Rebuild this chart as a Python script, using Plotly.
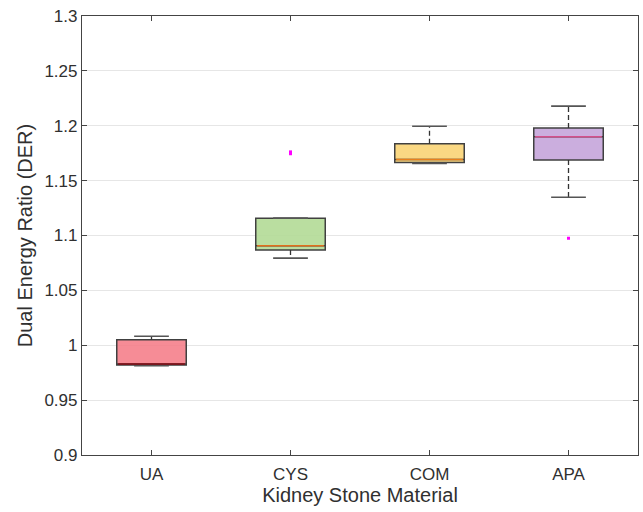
import plotly.graph_objects as go

categories = ["UA", "CYS", "COM", "APA"]
positions = [1, 2, 3, 4]
q1 = [0.982, 1.0868, 1.1666, 1.1689]
median = [0.983, 1.0906, 1.1693, 1.1900]
q3 = [1.0051, 1.1158, 1.1836, 1.1979]
lower_whisker = [0.9814, 1.0794, 1.1657, 1.1348]
upper_whisker = [1.0082, 1.1158, 1.1995, 1.2179]
outlier_x = [2, 2, 4]
outlier_y = [1.1745, 1.1762, 1.0975]

fill_colors = ["rgba(244,120,132,0.85)", "rgba(178,218,150,0.9)", "rgba(250,212,118,0.9)", "rgba(200,170,220,0.95)"]
median_colors = ["#8B0A14", "#E0701C", "#E8801C", "#D4508C"]
y_tickvals = [0.9, 0.95, 1.0, 1.05, 1.1, 1.15, 1.2, 1.25, 1.3]
y_ticktext = ["0.9", "0.95", "1", "1.05", "1.1", "1.15", "1.2", "1.25", "1.3"]

BOX_W = 0.5
CAP_W = 0.25
edge = "#404040"

fig = go.Figure()
for i, c in enumerate(categories):
    x = positions[i]
    # whiskers (dashed)
    fig.add_trace(go.Scatter(x=[x, x, None, x, x],
                             y=[q3[i], upper_whisker[i], None, q1[i], lower_whisker[i]],
                             mode="lines", line=dict(color="#333333", width=1.3, dash="5px,3px"),
                             showlegend=False, hoverinfo="skip"))
    # caps
    fig.add_trace(go.Scatter(x=[x - CAP_W / 2, x + CAP_W / 2, None, x - CAP_W / 2, x + CAP_W / 2],
                             y=[upper_whisker[i], upper_whisker[i], None, lower_whisker[i], lower_whisker[i]],
                             mode="lines", line=dict(color="#555555", width=1.6),
                             showlegend=False, hoverinfo="skip"))
    # box
    fig.add_trace(go.Box(x=[x], q1=[q1[i]], median=[median[i]], q3=[q3[i]],
                         lowerfence=[q1[i]], upperfence=[q3[i]],
                         width=BOX_W, fillcolor=fill_colors[i],
                         line=dict(color=edge, width=1.5), whiskerwidth=0,
                         showlegend=False, boxpoints=False, hoverinfo="skip"))
    # median
    fig.add_trace(go.Scatter(x=[x - BOX_W / 2 + 0.01, x + BOX_W / 2 - 0.01], y=[median[i], median[i]],
                             mode="lines", line=dict(color=median_colors[i], width=1.5),
                             showlegend=False, hoverinfo="skip"))

fig.add_trace(go.Scatter(x=outlier_x, y=outlier_y, mode="markers",
                         marker=dict(symbol="square", size=3, color="#FF00FF", line=dict(width=0)),
                         showlegend=False, hoverinfo="skip"))

txt = "#303030"
fig.update_layout(
    width=643, height=512,
    margin=dict(l=82, r=5, t=16, b=57),
    paper_bgcolor="white", plot_bgcolor="white",
    font=dict(family="Liberation Sans, Arial, sans-serif", size=17, color=txt),
    xaxis=dict(range=[0.5, 4.5], tickvals=positions, ticktext=categories,
               showgrid=False, zeroline=False, showline=True, linecolor="#444444", linewidth=1.2,
               mirror="ticks", ticks="inside", ticklen=5, tickcolor="#444444",
               ticklabelstandoff=3,
               title=dict(text="Kidney Stone Material", font=dict(size=20, color=txt), standoff=4),
               tickfont=dict(size=17, color=txt)),
    yaxis=dict(range=[0.9, 1.3], tickvals=y_tickvals, ticktext=y_ticktext,
               showgrid=True, gridcolor="#E6E6E6", gridwidth=1, zeroline=False,
               showline=True, linecolor="#444444", linewidth=1.2,
               mirror="ticks", ticks="inside", ticklen=5, tickcolor="#444444",
               title=dict(text="Dual Energy Ratio (DER)", font=dict(size=20, color=txt), standoff=6),
               tickfont=dict(size=17, color=txt)),
)
fig.write_html("out.html")
